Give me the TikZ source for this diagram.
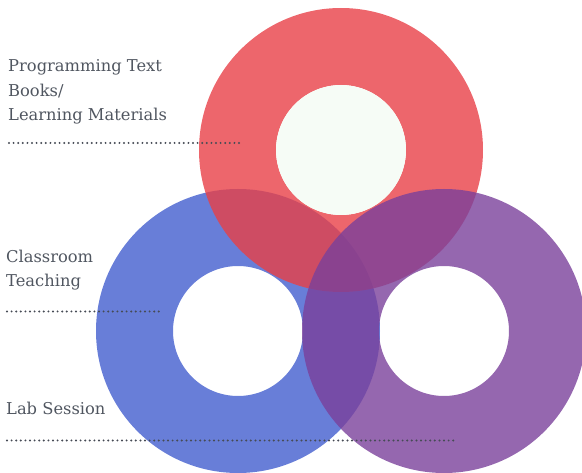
\documentclass[tikz,border=0pt]{standalone}
\usepackage{fontspec}
\setmainfont{DejaVu Serif}
\definecolor{ringblue}{RGB}{66,94,206}
\definecolor{ringred}{RGB}{232,64,71}
\definecolor{ringpurple}{RGB}{122,65,155}
\definecolor{holegreen}{RGB}{246,252,246}
\definecolor{labelgray}{RGB}{80,86,96}
\definecolor{dotgray}{RGB}{70,75,85}
\tikzset{
  ring/.style={fill opacity=0.8, even odd rule},
  label/.style={anchor=base west, inner sep=0pt, text=labelgray, align=left,
    font=\fontsize{16.3}{24.5}\selectfont},
  dotline/.style={draw=dotgray, line width=2.2pt, line cap=round, dash pattern=on 0pt off 4.6pt}
}
\begin{document}
\begin{tikzpicture}[x=1pt,y=-1pt]
\useasboundingbox (0,0) rectangle (582,473);
% rings
\fill[ring, fill=ringblue] (238,331) circle[radius=142pt] (238,331) circle[radius=65pt];
\fill[ring, fill=ringred] (341,150) circle[radius=142pt] (341,150) circle[radius=65pt];
\fill[holegreen] (341,150) circle[radius=65pt];
\fill[ring, fill=ringpurple] (444,331) circle[radius=142pt] (444,331) circle[radius=65pt];
% labels (base anchor = last line)
\node[label] (books) at (8,121) {Programming Text\\Books/\\Learning Materials};
\node[label] (class) at (6,287) {Classroom\\Teaching};
\node[label] (lab) at (6,415) {Lab Session};
% dotted lines
\coordinate (b1) at (9,143);
\coordinate (b2) at (240,143);
\coordinate (c1) at (7,311.5);
\coordinate (c2) at (161,311.5);
\coordinate (l1) at (7,440.5);
\coordinate (l2) at (454,440.5);
\draw[dotline] (b1) -- (b2);
\draw[dotline] (c1) -- (c2);
\draw[dotline] (l1) -- (l2);
\end{tikzpicture}
\end{document}
